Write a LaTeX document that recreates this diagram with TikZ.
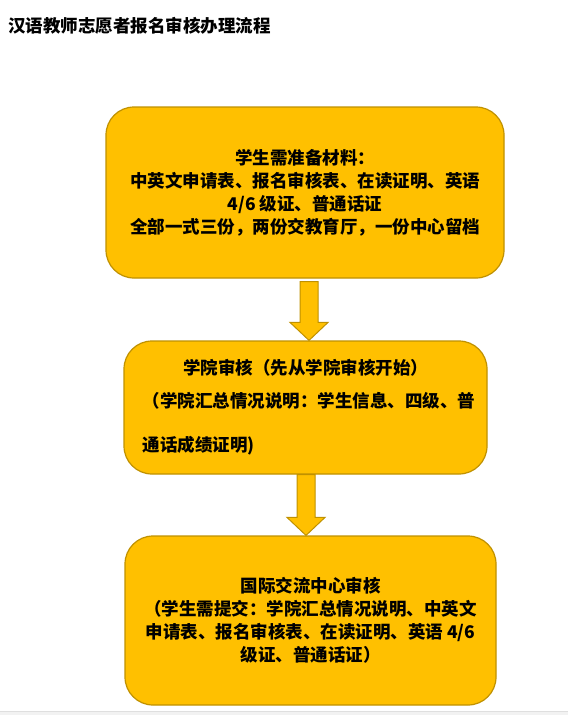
\documentclass[tikz,border=0pt]{standalone}
\usepackage{fontspec}
\setmainfont{Noto Sans CJK SC}
\usetikzlibrary{calc}
\definecolor{boxgold}{HTML}{FFC000}
\definecolor{boxedge}{HTML}{C09100}
\tikzset{
  flow box/.style={draw=boxedge, fill=boxgold, line width=1.2pt, rounded corners=28pt,
    inner sep=0pt, font=\fontsize{17.5}{23}\selectfont\bfseries},
  flow arrow/.style={draw=boxedge, fill=boxgold, line width=1pt, line join=miter},
}
\newcommand{\flowarrow}[2]{%
  \draw[flow arrow] let \p1=(#1), \p2=(#2) in
    (\x1-9pt,\y1) -- (\x1+9pt,\y1) -- (\x1+9pt,\y2+18pt) -- (\x1+19pt,\y2+18pt)
    -- (\x1,\y2) -- (\x1-19pt,\y2+18pt) -- (\x1-9pt,\y2+18pt) -- cycle;}

\begin{document}
\begin{tikzpicture}[x=1pt, y=-1pt]
  \useasboundingbox (0,0) rectangle (568,715);
  \fill[white] (0,0) rectangle (568,715);
  \fill[gray!10] (0,711) rectangle (568,715);
  \draw[gray!25] (0,711) -- (568,711);
  % title
  \node[anchor=west, inner sep=0pt, font=\fontsize{17.5}{20}\selectfont\bfseries]
    (title) at (8,26) {汉语教师志愿者报名审核办理流程};
  % steps
  \node[flow box, minimum width=398pt, minimum height=171pt, align=center]
    (apply) at (305,192.5) {学生需准备材料：\\
      中英文申请表、报名审核表、在读证明、英语\\
      4/6 级证、普通话证\\
      全部一式三份，两份交教育厅，一份中心留档};
  \node[flow box, minimum width=363pt, minimum height=133pt, text width=326pt, align=left]
    (college) at (305.5,407.5) {\makebox[\linewidth][c]{学院审核（先从学院审核开始）}\\[10pt]
      （学院汇总情况说明：学生信息、四级、普\\[21pt]
      通话成绩证明)};
  \node[flow box, minimum width=371pt, minimum height=169pt, align=center]
    (intl) at (310.5,620.5) {国际交流中心审核\\
      （学生需提交：学院汇总情况说明、中英文\\
      申请表、报名审核表、在读证明、英语 4/6\\
      级证、普通话证）};
  % arrows
  \flowarrow{$(apply.south)+(4,3)$}{college.north}
  \flowarrow{$(college.south)+(0.5,0)$}{intl.north}
\end{tikzpicture}
\end{document}
